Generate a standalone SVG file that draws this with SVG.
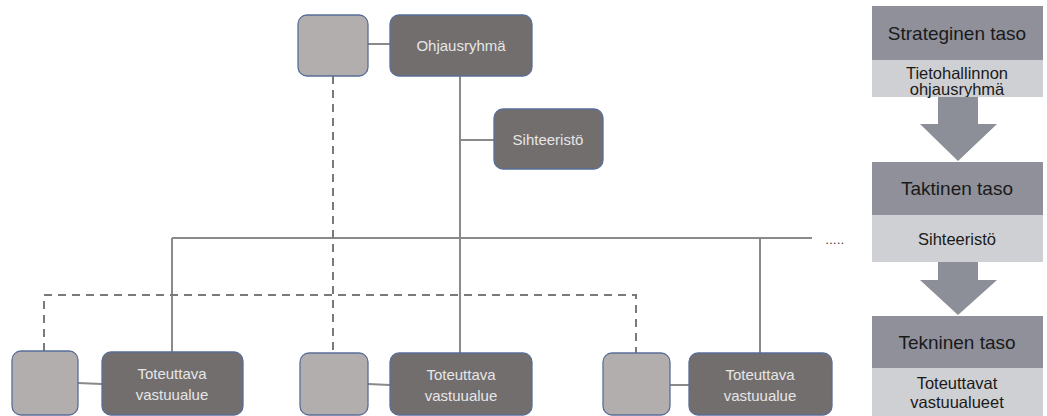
<svg xmlns="http://www.w3.org/2000/svg" width="1047" height="416" viewBox="0 0 1047 416">
<style>
.bg{fill:#ffffff}
.main{fill:#726e6e;stroke:#5a6e98;stroke-width:1.3}
.side{fill:#b2aeae;stroke:#5a6e98;stroke-width:1.3}
.ln{stroke:#8a8a8a;stroke-width:2;fill:none}
.dash{stroke:#7a7a7a;stroke-width:2;fill:none;stroke-dasharray:8,6}
.nt{font-family:"Liberation Sans",Arial,sans-serif;font-size:15px;fill:#e6e6e6;text-anchor:middle}
.hd{fill:#8f909a}
.lt{fill:#cfd0d3}
.arr{fill:#8c8e98}
.ht{font-family:"Liberation Sans",Arial,sans-serif;font-size:19px;fill:#1a1a1a;text-anchor:middle}
.st{font-family:"Liberation Sans",Arial,sans-serif;font-size:16.5px;fill:#1a1a1a;text-anchor:middle}
</style>
<rect class="bg" width="1047" height="416"/>
<g id="connectors">
  <line class="ln" x1="368" y1="44" x2="390" y2="44"/>
  <line class="ln" x1="460" y1="76" x2="460" y2="353"/>
  <line class="ln" x1="460" y1="140" x2="494" y2="140"/>
  <line class="ln" x1="172" y1="238" x2="812" y2="238"/>
  <line class="ln" x1="172" y1="238" x2="172" y2="352"/>
  <line class="ln" x1="760" y1="238" x2="760" y2="353"/>
  <line class="dash" x1="333" y1="76" x2="333" y2="353"/>
  <polyline class="dash" points="44,351 44,295 636,295 636,353"/>
  <line class="ln" x1="78" y1="383" x2="102" y2="384"/>
  <line class="ln" x1="368" y1="384" x2="390" y2="385"/>
  <line class="ln" x1="670" y1="385" x2="689" y2="385"/>
  <text x="835" y="244" font-family="Liberation Sans,Arial,sans-serif" font-size="12" fill="#333" text-anchor="middle" letter-spacing="0.5">.....</text>
</g>
<g id="top-side"><rect class="side" x="298" y="15" width="70" height="61" rx="9"/></g>
<g id="ohjausryhma"><rect class="main" x="390" y="15" width="142" height="61" rx="9"/><text class="nt" x="461" y="51">Ohjausryhmä</text></g>
<g id="sihteeristo"><rect class="main" x="494" y="109" width="109" height="60" rx="9"/><text class="nt" x="548" y="145">Sihteeristö</text></g>
<g id="side1"><rect class="side" x="12" y="351" width="66" height="64" rx="9"/></g>
<g id="toteuttava1"><rect class="main" x="102" y="352" width="141" height="63" rx="9"/><text class="nt" x="172" y="379">Toteuttava</text><text class="nt" x="172" y="400">vastuualue</text></g>
<g id="side2"><rect class="side" x="300" y="353" width="68" height="62" rx="9"/></g>
<g id="toteuttava2"><rect class="main" x="390" y="353" width="142" height="62" rx="9"/><text class="nt" x="461" y="380">Toteuttava</text><text class="nt" x="461" y="401">vastuualue</text></g>
<g id="side3"><rect class="side" x="603" y="353" width="67" height="62" rx="9"/></g>
<g id="toteuttava3"><rect class="main" x="689" y="353" width="143" height="62" rx="9"/><text class="nt" x="760" y="380">Toteuttava</text><text class="nt" x="760" y="401">vastuualue</text></g>
<g id="strateginen">
  <rect class="hd" x="872" y="6" width="171" height="54"/>
  <rect class="lt" x="872" y="60" width="171" height="37"/>
  <text class="ht" x="957" y="40">Strateginen taso</text>
  <text class="st" x="957" y="79">Tietohallinnon</text>
  <text class="st" x="957" y="95">ohjausryhmä</text>
</g>
<g id="arrow1"><polygon class="arr" points="938,97 978,97 978,124 997,124 958,161 920,124 938,124"/></g>
<g id="taktinen">
  <rect class="hd" x="872" y="162" width="171" height="53"/>
  <rect class="lt" x="872" y="215" width="171" height="47"/>
  <text class="ht" x="957" y="195">Taktinen taso</text>
  <text class="st" x="957" y="245">Sihteeristö</text>
</g>
<g id="arrow2"><polygon class="arr" points="938,262 978,262 978,280 997,280 958,315 920,280 938,280"/></g>
<g id="tekninen">
  <rect class="hd" x="872" y="316" width="171" height="52"/>
  <rect class="lt" x="872" y="368" width="171" height="48"/>
  <text class="ht" x="957" y="349">Tekninen taso</text>
  <text class="st" x="957" y="389">Toteuttavat</text>
  <text class="st" x="957" y="408">vastuualueet</text>
</g>
</svg>
